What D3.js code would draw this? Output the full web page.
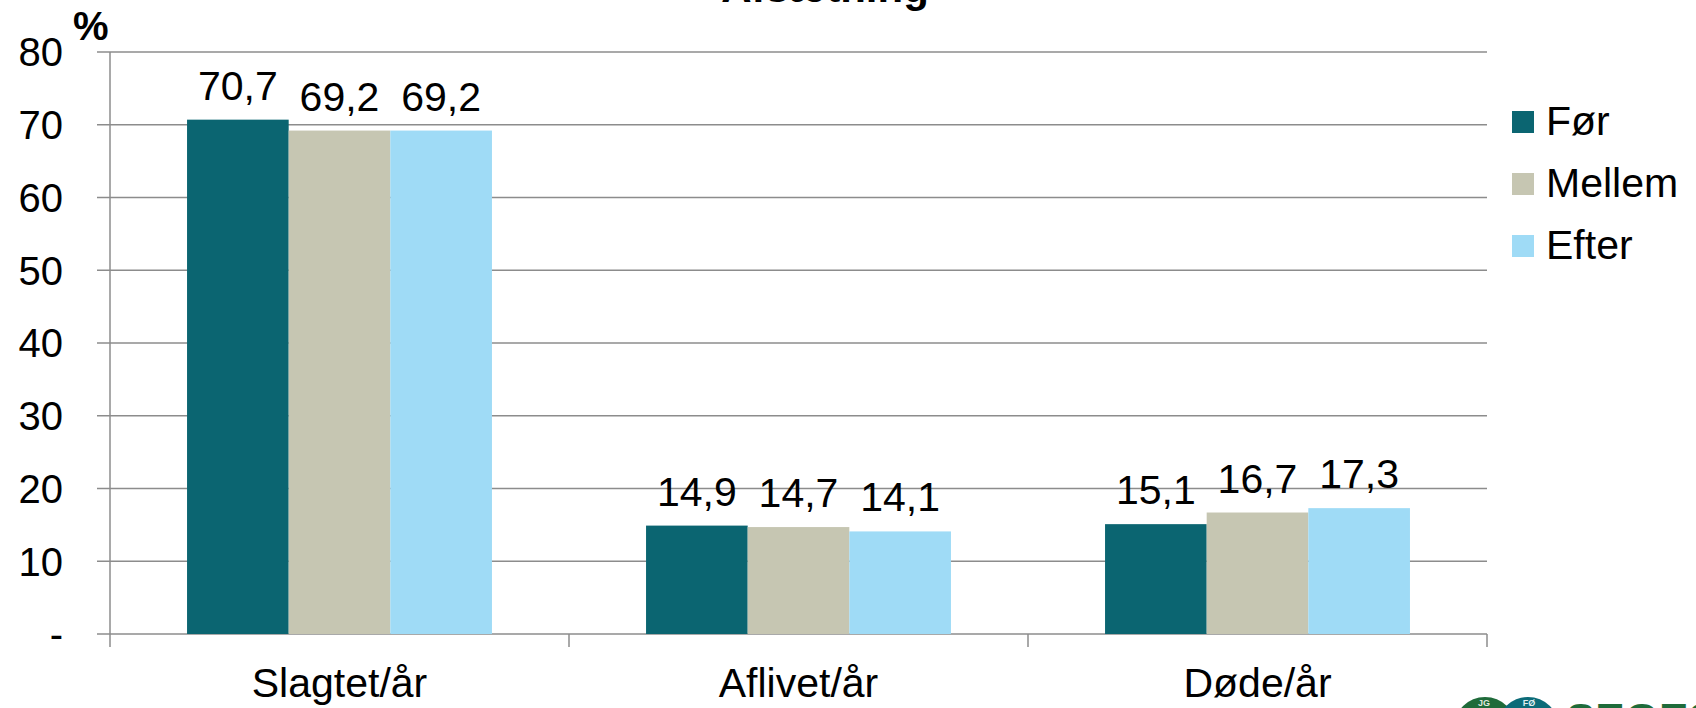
<!DOCTYPE html>
<html>
<head>
<meta charset="utf-8">
<script src="https://cdn.jsdelivr.net/npm/d3@7"></script>
<style>
  html, body { margin: 0; padding: 0; background: #fff; }
  svg { display: block; font-family: "Liberation Sans", Arial, sans-serif; }
</style>
</head>
<body>
<svg id="chart" width="1696" height="708"></svg>
<script>
// Categories, series and values
const categories = ["Slagtet/år", "Aflivet/år", "Døde/år"];
const seriesNames = ["Før", "Mellem", "Efter"];
const valuesFor = [70.7, 14.9, 15.1];
const valuesMellem = [69.2, 14.7, 16.7];
const valuesEfter = [69.2, 14.1, 17.3];
const yTicks = [0, 10, 20, 30, 40, 50, 60, 70, 80];
const yTickLabels = ["-", "10", "20", "30", "40", "50", "60", "70", "80"];
const colors = ["#0b6571", "#c6c6b2", "#9fdbf6"];

const seriesValues = [valuesFor, valuesMellem, valuesEfter];
const fmt = v => v.toFixed(1).replace(".", ",");

const svg = d3.select("#chart");
const plotLeft = 110, plotRight = 1487, plotTop = 52, plotBottom = 634;

const y = d3.scaleLinear().domain([0, 80]).range([plotBottom, plotTop]);
const x0 = d3.scaleBand().domain(categories).range([plotLeft, plotRight]).padding(0);
const x1 = d3.scaleBand().domain(seriesNames).range([0, x0.bandwidth()])
  .paddingInner(0).paddingOuter(0.758);

// Title (runs off the top edge)
svg.append("text")
  .attr("x", 825).attr("y", 2)
  .attr("text-anchor", "middle")
  .attr("font-size", 42).attr("font-weight", "bold")
  .attr("fill", "#000")
  .text("Afsætning");

// Gridlines
svg.append("g")
  .selectAll("line")
  .data(yTicks)
  .join("line")
  .attr("x1", plotLeft - 13).attr("x2", plotRight)
  .attr("y1", d => y(d)).attr("y2", d => y(d))
  .attr("stroke", "#8c8c8c").attr("stroke-width", 1.5);

// Y axis line
svg.append("line")
  .attr("x1", plotLeft).attr("x2", plotLeft)
  .attr("y1", plotTop).attr("y2", plotBottom + 13)
  .attr("stroke", "#8c8c8c").attr("stroke-width", 1.5);

// Category separator ticks
svg.append("g")
  .selectAll("line")
  .data(categories.slice(1).map(c => x0(c)).concat([plotRight]))
  .join("line")
  .attr("x1", d => d).attr("x2", d => d)
  .attr("y1", plotBottom).attr("y2", plotBottom + 13)
  .attr("stroke", "#8c8c8c").attr("stroke-width", 1.5);

// Y tick labels
svg.append("g")
  .selectAll("text")
  .data(yTicks)
  .join("text")
  .attr("x", 63)
  .attr("y", d => y(d))
  .attr("dy", "0.36em")
  .attr("text-anchor", "end")
  .attr("font-size", 40)
  .attr("fill", "#000")
  .text((d, i) => yTickLabels[i]);

// Unit label
svg.append("text")
  .attr("x", 73).attr("y", 40)
  .attr("font-size", 40).attr("font-weight", "bold")
  .attr("fill", "#000")
  .text("%");

// Bars
const groups = svg.append("g")
  .selectAll("g")
  .data(categories)
  .join("g")
  .attr("transform", c => `translate(${x0(c)},0)`);

groups.selectAll("rect")
  .data((c, ci) => seriesNames.map((s, si) => ({ s, si, v: seriesValues[si][ci] })))
  .join("rect")
  .attr("x", d => x1(d.s))
  .attr("width", x1.bandwidth())
  .attr("y", d => y(d.v))
  .attr("height", d => y(0) - y(d.v))
  .attr("fill", d => colors[d.si]);

// Value labels
groups.selectAll("text")
  .data((c, ci) => seriesNames.map((s, si) => ({ s, si, v: seriesValues[si][ci] })))
  .join("text")
  .attr("x", d => x1(d.s) + x1.bandwidth() / 2)
  .attr("y", d => y(d.v) - 20)
  .attr("text-anchor", "middle")
  .attr("font-size", 41)
  .attr("fill", "#000")
  .text(d => fmt(d.v));

// Category labels
svg.append("g")
  .selectAll("text")
  .data(categories)
  .join("text")
  .attr("x", c => x0(c) + x0.bandwidth() / 2)
  .attr("y", 697)
  .attr("text-anchor", "middle")
  .attr("font-size", 41)
  .attr("fill", "#000")
  .text(c => c);

// Legend
const legend = svg.append("g")
  .selectAll("g")
  .data(seriesNames)
  .join("g")
  .attr("transform", (d, i) => `translate(1512,${111 + i * 62})`);
legend.append("rect")
  .attr("width", 22).attr("height", 22)
  .attr("fill", (d, i) => colors[i]);
legend.append("text")
  .attr("x", 34).attr("y", 24)
  .attr("font-size", 41)
  .attr("fill", "#000")
  .text(d => d);

// Logo at the lower right edge
const logo = svg.append("g");
logo.append("circle").attr("cx", 1485).attr("cy", 728).attr("r", 31).attr("fill", "#1f6b3a");
logo.append("circle").attr("cx", 1528).attr("cy", 728).attr("r", 31).attr("fill", "#0c6b78");
logo.append("text").attr("x", 1484).attr("y", 706).attr("text-anchor", "middle")
  .attr("font-size", 9).attr("font-weight", "bold").attr("fill", "#dfe9df").text("JG");
logo.append("text").attr("x", 1529).attr("y", 706).attr("text-anchor", "middle")
  .attr("font-size", 9).attr("font-weight", "bold").attr("fill", "#dfeef0").text("FØ");
logo.append("text").attr("x", 1566).attr("y", 735)
  .attr("font-size", 44).attr("font-weight", "bold").attr("fill", "#1e6b3a").text("SEGES");
</script>
</body>
</html>
